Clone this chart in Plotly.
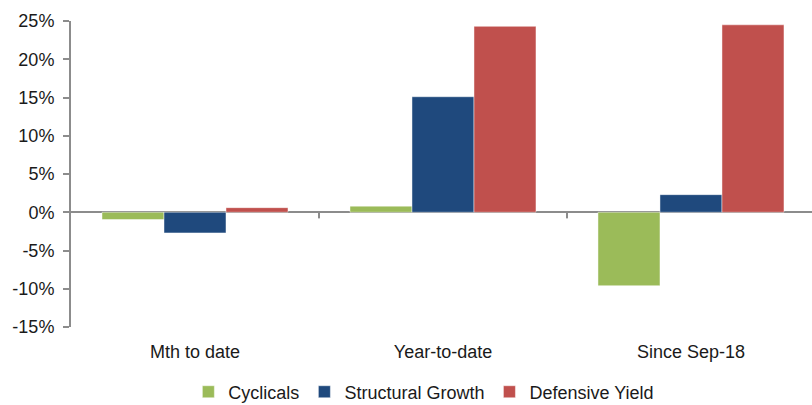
import plotly.graph_objects as go

# Performance by period for each basket (%)
periods = ["Mth to date", "Year-to-date", "Since Sep-18"]
cyclicals = [-0.95, 0.8, -9.6]
structural_growth = [-2.7, 15.1, 2.3]
defensive_yield = [0.6, 24.3, 24.5]

y_ticks = [-15, -10, -5, 0, 5, 10, 15, 20, 25]
y_labels = [f"{v}%" for v in y_ticks]

series = [
    ("Cyclicals", cyclicals, "#9BBB59"),
    ("Structural Growth", structural_growth, "#1F497D"),
    ("Defensive Yield", defensive_yield, "#C0504D"),
]

FONT = "Liberation Sans, Arial, sans-serif"
AXIS_GREY = "#8c8c8c"

fig = go.Figure()
for name, vals, color in series:
    fig.add_trace(go.Bar(
        x=periods, y=vals, name=name,
        marker=dict(color=color, line=dict(color="rgba(255,255,255,0.45)", width=1)),
    ))

# small category-separator ticks hanging below the 0% line
for b in [0.5, 1.5]:
    fig.add_shape(type="line", xref="x", yref="y", x0=b, x1=b, y0=0, y1=-0.8,
                  line=dict(color=AXIS_GREY, width=2))

fig.update_layout(
    width=812, height=405,
    margin=dict(l=71, r=0, t=21, b=78, autoexpand=False),
    paper_bgcolor="white", plot_bgcolor="white",
    barmode="group", bargap=0.25, bargroupgap=0,
    font=dict(family=FONT, size=18, color="#1a1a1a"),
    showlegend=True,
    legend=dict(
        orientation="h", xref="container", x=0.522, xanchor="center",
        yref="container", y=0.032, yanchor="middle",
        font=dict(family=FONT, size=18, color="#1a1a1a"),
        traceorder="normal",
    ),
    xaxis=dict(
        type="category", categoryarray=periods, range=[-0.5, 2.488],
        showline=False, ticks="", showgrid=False, zeroline=False,
        ticklabelstandoff=12, tickangle=0,
    ),
    yaxis=dict(
        range=[-15, 25], tickvals=y_ticks, ticktext=y_labels,
        showline=True, linecolor=AXIS_GREY, linewidth=2,
        ticks="outside", ticklen=6, tickwidth=2, tickcolor=AXIS_GREY,
        showgrid=False, zeroline=True, zerolinecolor=AXIS_GREY, zerolinewidth=2,
        ticklabelstandoff=5,
    ),
)

fig.write_html("out.html")
